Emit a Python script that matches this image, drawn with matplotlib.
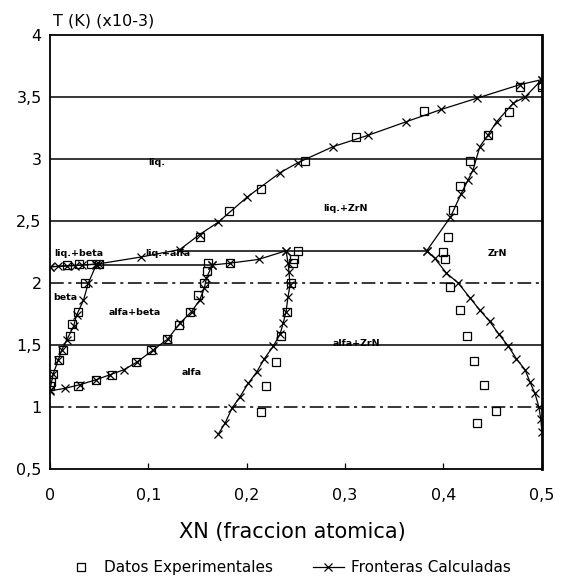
import matplotlib
matplotlib.use("Agg")
import matplotlib.pyplot as plt
from matplotlib.ticker import FixedLocator, FixedFormatter

# ------------------------------
# calculated phase boundaries (XN, T/1000)
# ------------------------------
liq_x = [0.0, 0.025, 0.05, 0.093, 0.132, 0.152, 0.171, 0.200, 0.234, 0.252,
         0.288, 0.323, 0.362, 0.398, 0.434, 0.478, 0.5]
liq_t = [2.13, 2.14, 2.155, 2.21, 2.27, 2.39, 2.49, 2.69, 2.89, 2.97,
         3.10, 3.19, 3.30, 3.40, 3.49, 3.60, 3.64]

beta_sol_x = [0.0, 0.008, 0.017, 0.033, 0.047]
beta_sol_t = [2.13, 2.135, 2.14, 2.145, 2.15]

alfa_sol_x = [0.165, 0.183, 0.212, 0.240]
alfa_sol_t = [2.145, 2.16, 2.19, 2.26]

zrn_sol_x = [0.383, 0.407, 0.418, 0.425, 0.430, 0.437, 0.445, 0.454, 0.471, 0.483, 0.5]
zrn_sol_t = [2.26, 2.53, 2.72, 2.83, 2.91, 3.10, 3.19, 3.30, 3.45, 3.50, 3.64]

zrn_low_x = [0.383, 0.391, 0.403, 0.415, 0.427, 0.437, 0.447, 0.456, 0.466, 0.474,
             0.483, 0.488, 0.493, 0.497, 0.499, 0.5]
zrn_low_t = [2.26, 2.20, 2.08, 2.00, 1.88, 1.78, 1.69, 1.59, 1.49, 1.39,
             1.30, 1.20, 1.11, 1.00, 0.90, 0.80]

alfa_zrn_x = [0.240, 0.242, 0.243, 0.244, 0.242, 0.240, 0.237, 0.234, 0.227, 0.218,
              0.210, 0.2015, 0.193, 0.185, 0.178, 0.171]
alfa_zrn_t = [2.26, 2.16, 2.09, 1.98, 1.89, 1.77, 1.675, 1.59, 1.49, 1.39,
              1.28, 1.19, 1.08, 0.99, 0.87, 0.78]

alfa_beta_x = [0.165, 0.159, 0.157, 0.152, 0.144, 0.132, 0.12, 0.105, 0.088, 0.075,
               0.061, 0.047, 0.0305, 0.015, 0.0]
alfa_beta_t = [2.145, 2.04, 1.96, 1.86, 1.77, 1.675, 1.55, 1.46, 1.36, 1.30,
               1.26, 1.22, 1.18, 1.15, 1.13]

beta_x = [0.047, 0.039, 0.034, 0.027, 0.024, 0.017, 0.012, 0.0085, 0.0034, 0.0]
beta_t = [2.145, 2.0, 1.86, 1.74, 1.65, 1.54, 1.46, 1.38, 1.27, 1.14]

# peritectic horizontals
peri1_x = [0.047, 0.165]
peri1_t = [2.145, 2.145]
peri2_x = [0.132, 0.383]
peri2_t = [2.26, 2.26]

# ------------------------------
# experimental data
# ------------------------------
exp_x = [0.152, 0.182, 0.215, 0.259, 0.311, 0.380, 0.478, 0.50,
         0.017, 0.030, 0.042, 0.050,
         0.161, 0.183,
         0.160, 0.157, 0.150, 0.142, 0.131, 0.119, 0.103, 0.087, 0.063, 0.047, 0.028,
         0.0356, 0.028, 0.022, 0.020, 0.0135, 0.009, 0.003, 0.001, 0.0,
         0.252, 0.248, 0.247, 0.2455, 0.241, 0.235, 0.230, 0.220, 0.215,
         0.405, 0.410, 0.417, 0.427, 0.445, 0.467, 0.50,
         0.400, 0.402, 0.407, 0.417, 0.424, 0.431, 0.441, 0.453, 0.434]
exp_t = [2.37, 2.58, 2.76, 2.98, 3.18, 3.39, 3.58, 3.60,
         2.145, 2.15, 2.15, 2.15,
         2.16, 2.16,
         2.10, 2.00, 1.90, 1.77, 1.66, 1.55, 1.46, 1.36, 1.26, 1.22, 1.17,
         2.00, 1.77, 1.67, 1.57, 1.46, 1.38, 1.27, 1.20, 1.17,
         2.26, 2.19, 2.16, 2.00, 1.77, 1.57, 1.36, 1.17, 0.96,
         2.37, 2.59, 2.78, 2.98, 3.19, 3.38, 3.58,
         2.25, 2.19, 1.97, 1.78, 1.57, 1.37, 1.18, 0.97, 0.87]

# region labels
reg_text = ["liq.", "liq.+ZrN", "ZrN", "liq.+beta", "liq.+alfa", "beta",
            "alfa+beta", "alfa", "alfa+ZrN"]
reg_x = [0.109, 0.300, 0.455, 0.029, 0.120, 0.016, 0.086, 0.144, 0.312]
reg_t = [2.97, 2.60, 2.24, 2.24, 2.24, 1.88, 1.76, 1.28, 1.51]

x_ticks = [0, 0.1, 0.2, 0.3, 0.4, 0.5]
x_labels = ["0", "0,1", "0,2", "0,3", "0,4", "0,5"]
y_ticks = [0.5, 1, 1.5, 2, 2.5, 3, 3.5, 4]
y_labels = ["0,5", "1", "1,5", "2", "2,5", "3", "3,5", "4"]

plt.rcParams['font.family'] = ['DejaVu Sans']

fig = plt.figure(figsize=(5.66, 5.79), dpi=100)
ax = fig.add_axes([0.0883, 0.19, 0.869, 0.7496])

# grid lines
for yv in [1, 1.5, 2, 2.5, 3, 3.5]:
    ls = (0, (9, 3, 2, 3)) if yv in (1, 2) else "-"
    ax.axhline(yv, color="black", lw=1.1, ls=ls, zorder=1)

line_kw = dict(color="black", lw=0.9, marker="x", ms=5.5, mew=0.9, zorder=3)
ax.plot(liq_x, liq_t, label="Fronteras Calculadas", **line_kw)
for xs, ts in [(beta_sol_x, beta_sol_t), (alfa_sol_x, alfa_sol_t),
               (zrn_sol_x, zrn_sol_t), (zrn_low_x, zrn_low_t),
               (alfa_zrn_x, alfa_zrn_t), (alfa_beta_x, alfa_beta_t),
               (beta_x, beta_t)]:
    ax.plot(xs, ts, **line_kw)
ax.plot(peri1_x, peri1_t, color="black", lw=1.1, zorder=3)
ax.plot(peri2_x, peri2_t, color="black", lw=1.1, zorder=3)

ax.plot(exp_x, exp_t, ls="none", marker="s", ms=5.5, mfc="none", mec="black",
        mew=0.9, zorder=4, label="Datos Experimentales")

for txt, xv, tv in zip(reg_text, reg_x, reg_t):
    ax.text(xv, tv, txt, fontsize=6.8, weight="bold", ha="center", va="center",
            zorder=5)

ax.set_xlim(0, 0.5)
ax.set_ylim(0.5, 4)
ax.xaxis.set_major_locator(FixedLocator(x_ticks))
ax.xaxis.set_major_formatter(FixedFormatter(x_labels))
ax.yaxis.set_major_locator(FixedLocator(y_ticks))
ax.yaxis.set_major_formatter(FixedFormatter(y_labels))
ax.tick_params(axis="x", direction="in", length=4, width=0.9, pad=14, labelsize=11.5)
ax.tick_params(axis="y", length=0, pad=6, labelsize=11.5)
for s in ax.spines.values():
    s.set_linewidth(1.3)
ax.spines["right"].set_linewidth(2.0)

fig.text(53 / 566, 1 - 21 / 579, "T (K) (x10-3)", fontsize=11.5, ha="left", va="center")
fig.text(292 / 566, 1 - 532 / 579, "XN (fraccion atomica)", fontsize=15,
         ha="center", va="center")

handles, labels = ax.get_legend_handles_labels()
fig.legend(handles[::-1], labels[::-1], loc="center", bbox_to_anchor=(0.51, 0.019),
           ncol=2, frameon=False, fontsize=11, columnspacing=2.6,
           handlelength=2.0, handletextpad=0.5)

plt.savefig("out.png", dpi=100)
plt.close()
